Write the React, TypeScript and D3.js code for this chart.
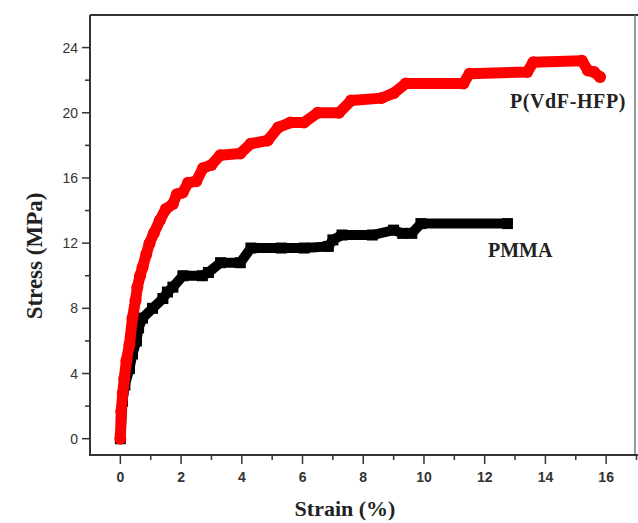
import React from 'react'
import * as d3 from 'd3'

// strain (%) / stress (MPa)
const pvdfStrain = [0, 0.03, 0.08, 0.13, 0.2, 0.3, 0.4, 0.5, 0.56, 0.65, 0.73, 0.85, 0.96, 1.1, 1.3, 1.5, 1.73, 1.86, 2.05, 2.23, 2.5, 2.72, 3.0, 3.29, 3.95, 4.29, 4.85, 5.2, 5.6, 6.05, 6.5, 7.2, 7.6, 8.6, 9.0, 9.4, 11.3, 11.5, 13.4, 13.6, 15.2, 15.4, 15.6, 15.8]
const pvdfStress = [0, 1.7, 2.8, 3.7, 4.8, 5.8, 7.4, 8.5, 9.3, 10.0, 10.5, 11.3, 12.0, 12.6, 13.4, 14.1, 14.4, 15.0, 15.1, 15.7, 15.8, 16.6, 16.8, 17.4, 17.5, 18.1, 18.3, 19.1, 19.4, 19.4, 20.0, 20.0, 20.75, 20.9, 21.2, 21.8, 21.8, 22.4, 22.5, 23.1, 23.2, 22.6, 22.5, 22.2]

const pmmaStrain = [0, 0.07, 0.15, 0.3, 0.4, 0.53, 0.6, 0.73, 1.06, 1.4, 1.55, 1.73, 2.06, 2.7, 2.9, 3.3, 3.95, 4.3, 5.3, 6.05, 6.85, 7.0, 7.3, 8.3, 9.0, 9.3, 9.6, 9.9, 12.75]
const pmmaStress = [0, 2.3, 3.3, 4.3, 5.2, 6.0, 6.8, 7.4, 8.0, 8.6, 9.0, 9.3, 10.0, 10.0, 10.2, 10.8, 10.8, 11.7, 11.7, 11.7, 11.8, 12.2, 12.5, 12.5, 12.8, 12.6, 12.6, 13.2, 13.2]

const xTicks = [0, 2, 4, 6, 8, 10, 12, 14, 16]
const yTicks = [0, 4, 8, 12, 16, 20, 24]
const xMinor = d3.range(-1, 17.01, 1)
const yMinor = d3.range(-2, 26.01, 2)

const W = 638
const H = 523
const left = 90
const top = 15
const right = 635
const bottom = 455
const axisColor = '#333'

const App = () => {
    const x = d3.scaleLinear().domain([-1, 17]).range([left, right + 1.5])
    const y = d3.scaleLinear().domain([-1, 26]).range([bottom, top])

    const redLine = d3.line<number>()
        .x(i => x(pvdfStrain[i]))
        .y(i => y(pvdfStress[i]))
    const blackLine = d3.line<number>()
        .x(i => x(pmmaStrain[i]))
        .y(i => y(pmmaStress[i]))

    return (
        <svg width={W} height={H} style={{ position: 'absolute', left: 0, top: 0, background: '#fff' }}>
            {/* data */}
            <path d={blackLine(d3.range(pmmaStrain.length)) || ''} fill='none' stroke='#000' strokeWidth={10} strokeLinejoin='miter' />
            {pmmaStrain.map((s, i) => (
                <rect key={'b' + i} x={x(s) - 5.5} y={y(pmmaStress[i]) - 5.5} width={11} height={11} fill='#000' />
            ))}
            <path d={redLine(d3.range(pvdfStrain.length)) || ''} fill='none' stroke='#ff0000' strokeWidth={11} strokeLinejoin='round' strokeLinecap='round' />
            {pvdfStrain.map((s, i) => (
                <circle key={'r' + i} cx={x(s)} cy={y(pvdfStress[i])} r={6} fill='#ff0000' />
            ))}

            {/* frame */}
            <line x1={left} x2={right + 3} y1={top} y2={top} stroke={axisColor} strokeWidth={2} />
            <line x1={right} x2={right} y1={top} y2={bottom} stroke='#777' strokeWidth={1.5} />
            <line x1={left} x2={left} y1={top} y2={bottom + 1} stroke={axisColor} strokeWidth={2} />
            <line x1={left - 1} x2={W} y1={bottom} y2={bottom} stroke={axisColor} strokeWidth={2} />

            {/* y ticks */}
            {yMinor.filter(v => y(v) > top + 2 && y(v) < bottom - 2).map(v => (
                <line key={'ym' + v} x1={left - (v % 4 === 0 ? 8 : 5)} x2={left} y1={y(v)} y2={y(v)} stroke={axisColor} strokeWidth={1.5} />
            ))}
            {yTicks.map(v => (
                <text key={'yt' + v} x={78} y={y(v)} dy='0.36em' textAnchor='end' fontFamily='Arial, Liberation Sans, sans-serif' fontSize={14} fill='#333'>
                    {v}
                </text>
            ))}

            {/* x ticks */}
            {xMinor.filter(v => x(v) > left + 2).map(v => (
                <line key={'xm' + v} x1={x(v)} x2={x(v)} y1={bottom} y2={bottom + (v % 2 === 0 ? 9 : 5)} stroke={axisColor} strokeWidth={1.5} />
            ))}
            {xTicks.map(v => (
                <text key={'xt' + v} x={x(v)} y={482} textAnchor='middle' fontFamily='Arial, Liberation Sans, sans-serif' fontWeight='bold' fontSize={14} fill='#333'>
                    {v}
                </text>
            ))}

            {/* axis titles */}
            <text x={345} y={516} textAnchor='middle' fontFamily='Times New Roman, Liberation Serif, serif' fontWeight='bold' fontSize={22} fill='#222'>
                Strain (%)
            </text>
            <text transform={`translate(42, 256) rotate(-90)`} textAnchor='middle' fontFamily='Times New Roman, Liberation Serif, serif' fontWeight='bold' fontSize={23} fill='#222'>
                Stress (MPa)
            </text>

            {/* series labels */}
            <text x={510} y={108} fontFamily='Times New Roman, Liberation Serif, serif' fontWeight='bold' fontSize={20} fill='#222' letterSpacing={0.6}>
                P(VdF-HFP)
            </text>
            <text x={488} y={257} fontFamily='Times New Roman, Liberation Serif, serif' fontWeight='bold' fontSize={20} fill='#222'>
                PMMA
            </text>
        </svg>
    )
}

export default App
